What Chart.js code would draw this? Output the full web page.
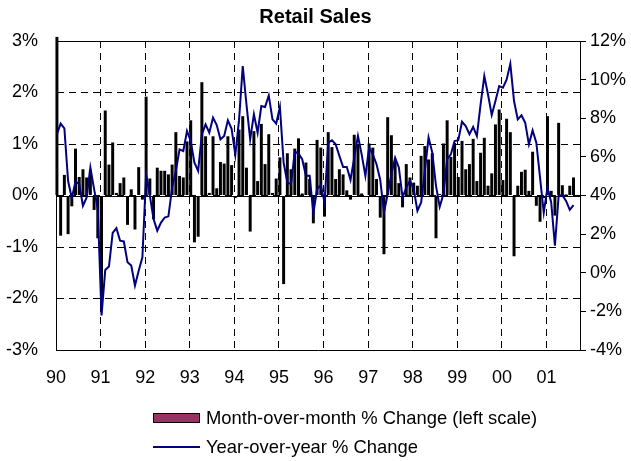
<!DOCTYPE html>
<html>
<head>
<meta charset="utf-8">
<title>Retail Sales</title>
<script src="https://cdn.jsdelivr.net/npm/chart.js@4.4.0/dist/chart.umd.min.js"></script>
<style>
  body { margin: 0; background: #fff; }
  #wrap { position: relative; width: 631px; height: 461px; }
  .legend-item {
    position: absolute; left: 153px; height: 22px;
    display: flex; align-items: center; white-space: nowrap;
    font: 18.4px "Liberation Sans", Arial, sans-serif; color: #000;
  }
  .swatch { box-sizing: border-box; width: 47px; height: 10px; background: #993366; border: 1.5px solid #000; margin-right: 6px; }
  .stroke { width: 47px; height: 2px; background: #000080; margin-right: 6px; }
</style>
</head>
<body>
<div id="wrap">
  <canvas id="chart" width="631" height="461"></canvas>
  <div class="legend-item" style="top:407px"><span class="swatch"></span>Month-over-month % Change (left scale)</div>
  <div class="legend-item" style="top:436px"><span class="stroke"></span>Year-over-year % Change</div>
</div>
<script>
// one label per January, 1990 .. 2001
const yearLabels = ['90', '91', '92', '93', '94', '95', '96', '97', '98', '99', '00', '01']

// monthly, Jan 1990 .. Aug 2001 (left scale, %)
const momChange = [
  3.08, -0.78, 0.40, -0.75, -0.21, 0.91, 0.36, 0.51, 0.35, 0.50, -0.28, -0.83,
  -2.22, 1.65, 0.60, 1.03, 0.05, 0.24, 0.35, -0.57, 0.12, -0.66, 0.55, -0.08,
  1.92, 0.33, -0.46, 0.54, 0.48, 0.48, 0.41, 0.60, 1.23, 0.38, 0.35, 1.05,
  1.46, -0.91, -0.80, 2.20, 1.15, 0.05, 1.15, 0.14, 0.65, 0.62, 1.15, 0.59,
  -0.05, 1.28, 1.54, 0.54, -0.70, 1.25, 0.28, 1.39, 0.61, 1.19, 0.05, 0.33,
  0.74, -1.72, 0.82, 0.51, 0.91, 1.11, 0.04, 0.64, 0.32, -0.54, 1.08, 0.93,
  -0.41, 1.23, 0.94, 0.32, 0.51, 0.41, 0.10, -0.08, 1.18, 1.00, 0.04, -0.03,
  1.01, 0.93, 0.32, -0.43, -1.14, 1.52, 1.17, 0.65, 0.24, -0.23, 0.61, 0.35,
  0.25, 0.19, 0.77, 0.96, 0.70, 0.82, -0.83, 0.03, 1.01, 1.46, 0.75, 1.02,
  0.36, 1.06, 0.51, 0.61, 1.10, 0.28, 0.83, 1.12, 0.19, 0.43, 1.38, 1.67,
  0.30, 1.49, 1.23, -1.18, 0.19, 0.46, 0.50, 0.09, 0.85, -0.20, -0.51, -0.05,
  1.54, 0.09, -0.39, 1.41, 0.20, 0.02, 0.19, 0.35
]

// monthly, Jan 1990 .. Aug 2001 (right scale, %)
const yoyChange = [
  7.17, 7.72, 7.48, 4.76, 3.86, 4.72, 4.59, 3.47, 3.90, 5.45, 4.33, 3.30,
  -2.21, 0.14, 0.32, 2.06, 2.31, 1.66, 1.62, 0.54, 0.37, -0.66, 0.10, 0.80,
  5.10, 4.00, 2.78, 2.18, 2.60, 2.86, 2.92, 4.41, 5.27, 6.39, 6.30, 7.34,
  6.82, 5.70, 5.27, 7.17, 7.68, 7.25, 8.03, 7.65, 6.91, 7.08, 7.89, 7.45,
  6.10, 7.90, 10.70, 8.72, 6.91, 8.20, 7.25, 8.63, 8.58, 9.18, 7.94, 7.72,
  8.58, 5.70, 4.67, 4.59, 6.27, 6.17, 5.88, 5.02, 5.02, 3.07, 4.33, 4.55,
  3.65, 6.74, 6.86, 6.65, 6.05, 5.48, 5.48, 4.81, 5.96, 7.08, 6.13, 5.02,
  6.48, 6.13, 5.62, 4.81, 3.12, 4.07, 5.10, 5.96, 5.45, 3.90, 4.41, 4.76,
  4.33, 3.21, 3.64, 5.27, 7.00, 6.22, 4.50, 3.41, 4.07, 5.88, 6.13, 6.82,
  6.86, 7.82, 7.60, 7.17, 7.55, 7.08, 8.72, 10.18, 9.23, 8.17, 8.89, 9.66,
  9.58, 10.00, 10.82, 8.89, 7.94, 8.15, 7.77, 6.65, 7.37, 6.74, 4.93, 3.12,
  4.41, 3.64, 1.40, 3.98, 4.02, 3.72, 3.26, 3.50
]

const font = "'Liberation Sans', Arial, sans-serif"
Chart.defaults.font.family = font
Chart.defaults.color = '#000'

// month index -> point, a quarter month into its slot
const toPoints = arr => arr.map((v, i) => ({ x: i + 0.25, y: v }))

// solid top edge and zero line (the rest of the frame comes from the axis borders)
const framePlugin = {
  id: 'frame',
  beforeDatasetsDraw(chart) {
    const { ctx, chartArea: a, scales } = chart
    const top = Math.round(a.top) + 0.5
    const zero = Math.round(scales.y.getPixelForValue(0)) + 0.5
    ctx.save()
    ctx.strokeStyle = '#000'
    ctx.lineWidth = 1
    ctx.beginPath()
    ctx.moveTo(a.left, top)
    ctx.lineTo(a.right, top)
    ctx.moveTo(a.left, zero)
    ctx.lineTo(a.right, zero)
    ctx.stroke()
    ctx.restore()
  }
}

new Chart(document.getElementById('chart'), {
  data: {
    datasets: [
      {
        type: 'line',
        label: 'Year-over-year % Change',
        data: toPoints(yoyChange),
        yAxisID: 'y1',
        borderColor: '#000080',
        borderWidth: 2,
        pointRadius: 0,
        tension: 0,
        order: 0
      },
      {
        type: 'bar',
        label: 'Month-over-month % Change (left scale)',
        data: toPoints(momChange),
        yAxisID: 'y',
        backgroundColor: '#000',
        barPercentage: 0.8,
        categoryPercentage: 1,
        clip: false,
        order: 1
      }
    ]
  },
  options: {
    responsive: false,
    animation: false,
    layout: { padding: { left: 0, right: 0, top: 0, bottom: 71 } },
    plugins: {
      legend: { display: false },
      tooltip: { enabled: false },
      title: {
        display: true,
        text: 'Retail Sales',
        font: { size: 20, weight: 'bold' },
        padding: { top: 5, bottom: 12 }
      }
    },
    scales: {
      x: {
        type: 'linear',
        min: 0,
        max: 141,
        offset: false,
        afterBuildTicks: s => { s.ticks = yearLabels.map((_, k) => ({ value: k * 12 })) },
        afterFit: s => { s.height = 40 },
        ticks: { callback: v => yearLabels[v / 12], font: { size: 18 }, padding: 17, maxRotation: 0, autoSkip: false },
        grid: { color: '#000', drawTicks: false, offset: false },
        border: { display: true, color: '#000', width: 1, dash: [7, 5] }
      },
      y: {
        type: 'linear',
        position: 'left',
        min: -3,
        max: 3,
        afterFit: s => { s.width = 56 },
        ticks: { stepSize: 1, callback: v => v + '%', font: { size: 18 }, padding: 18 },
        grid: { color: '#000', drawTicks: false },
        border: { display: true, color: '#000', width: 1, dash: [7, 5] }
      },
      y1: {
        type: 'linear',
        position: 'right',
        min: -4,
        max: 12,
        afterFit: s => { s.width = 51 },
        ticks: { stepSize: 2, callback: v => v + '%', font: { size: 18 }, padding: 4 },
        grid: { drawOnChartArea: false, color: '#000', tickLength: 6 },
        border: { display: true, color: '#000', width: 1 }
      }
    }
  },
  plugins: [framePlugin]
})
</script>
</body>
</html>
